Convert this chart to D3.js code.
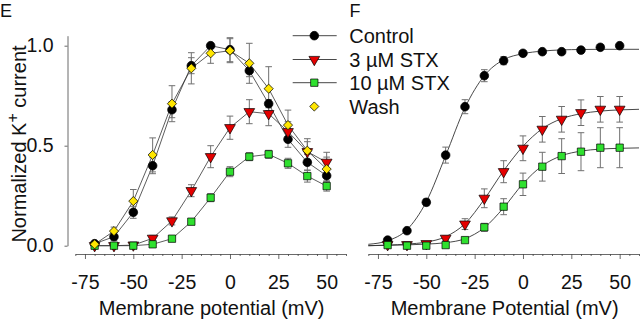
<!DOCTYPE html>
<html>
<head>
<meta charset="utf-8">
<script src="https://cdn.jsdelivr.net/npm/d3@7"></script>
<style>
html,body{margin:0;padding:0;background:#fff;}
svg{display:block;font-family:"Liberation Sans",Arial,sans-serif;}
</style>
</head>
<body>
<svg id="chart" width="640" height="319"></svg>
<script>
// ---------- DATA ----------
const voltages = [-70,-60,-50,-40,-30,-20,-10,0,10,20,30,40,50];
const seriesNames = ["Control","3 µM STX","10 µM STX","Wash"];

// Panel E (measured, connected by straight segments)
const eControl = [0.01,0.045,0.167,0.40,0.68,0.90,1.00,0.98,0.875,0.71,0.532,0.417,0.35];
const eControlErr = [0.005,0.02,0.03,0.04,0.04,0.04,0.01,0.06,0.03,0.02,0.04,0.04,0.03];
const eStx3 = [0.0,0.0,0.003,0.037,0.124,0.275,0.445,0.59,0.67,0.66,0.57,0.47,0.417];
const eStx3Err = [0.005,0.005,0.005,0.015,0.02,0.03,0.055,0.058,0.06,0.06,0.05,0.05,0.05];
const eStx10 = [0.0,0.0,0.0,0.007,0.035,0.12,0.24,0.37,0.445,0.457,0.412,0.348,0.298];
const eStx10Err = [0.005,0.005,0.005,0.005,0.01,0.015,0.02,0.025,0.02,0.02,0.025,0.03,0.025];
const eWash = [0.007,0.073,0.223,0.454,0.71,0.887,0.962,0.975,0.912,0.785,0.603,0.475,0.383];
const eWashErr = [0.01,0.02,0.058,0.085,0.09,0.078,0.05,0.06,0.1,0.11,0.075,0.06,0.06];

// Panel F (measured points)
const fControl = [0.028,0.075,0.217,0.453,0.695,0.85,0.925,0.962,0.97,0.97,0.978,0.992,1.0];
const fControlErr = [0.005,0.01,0.017,0.04,0.035,0.03,0.02,0.01,0.005,0.005,0.005,0.005,0.005];
const fStx3 = [0.005,0.005,0.01,0.037,0.108,0.237,0.37,0.487,0.582,0.632,0.665,0.682,0.682];
const fStx3Err = [0.005,0.005,0.005,0.012,0.027,0.047,0.055,0.062,0.064,0.064,0.064,0.064,0.064];
const fStx10 = [0.003,0.0,0.0,0.003,0.028,0.092,0.195,0.307,0.395,0.448,0.47,0.49,0.49];
const fStx10Err = [0.005,0.005,0.005,0.005,0.01,0.02,0.04,0.056,0.072,0.087,0.095,0.1,0.1];

// Panel F fitted curves
const fitVoltages = [-80,-70,-60,-50,-40,-30,-20,-10,0,10,20,30,40,50,60];
const fitControl = [0.007,0.025,0.08,0.22,0.45,0.69,0.85,0.93,0.96,0.973,0.979,0.981,0.982,0.982,0.982];
const fitStx3 = [0.0,0.003,0.008,0.018,0.045,0.11,0.232,0.375,0.497,0.585,0.635,0.66,0.673,0.679,0.682];
const fitStx10 = [0.0,0.002,0.004,0.008,0.015,0.035,0.09,0.19,0.31,0.4,0.45,0.473,0.483,0.487,0.489];

const xTicks = [-75,-50,-25,0,25,50];
const xTickLabels = ["-75","-50","-25","0","25","50"];
const yTicks = [0.0,0.5,1.0];
const yTickLabels = ["0.0","0.5","1.0"];

// ---------- STYLE ----------
const colors = {"Control":"#000000","3 µM STX":"#e40000","10 µM STX":"#2fe02f","Wash":"#ffe600"};
const svg = d3.select("#chart");
const FONT = 19.5;
const TITLE = 20;

const y = d3.scaleLinear().domain([0,1.05]).range([245.7,35.7]);
const xE = d3.scaleLinear().domain([-80,60]).range([75.3,346]);
const xF = d3.scaleLinear().domain([-80,60]).range([368.3,639]);
const AXIS_Y = 254;

function symbolFor(name){
  if(name==="Control") return {type:d3.symbolCircle,size:59,rot:0};
  if(name==="3 µM STX") return {type:d3.symbolTriangle,size:50,rot:180};
  if(name==="10 µM STX") return {type:d3.symbolSquare,size:54,rot:0};
  return {type:d3.symbolSquare,size:42,rot:45};
}
function drawMarker(g,name,cx,cy){
  const s = symbolFor(name);
  g.append("path")
    .attr("d",d3.symbol().type(s.type).size(s.size)())
    .attr("transform",`translate(${cx},${cy}) rotate(${s.rot})`)
    .attr("fill",colors[name]).attr("stroke","#000").attr("stroke-width",0.7);
}

function drawXAxis(x, title){
  const g = svg.append("g").attr("transform",`translate(0,${AXIS_Y})`);
  const minor = d3.range(-80,61,5).filter(v=>!xTicks.includes(v));
  g.append("g").call(d3.axisBottom(x).tickValues(minor).tickSize(2).tickSizeOuter(0).tickFormat(""))
    .call(a=>a.selectAll("line,path").attr("stroke","#444").attr("stroke-width",0.8));
  g.append("g").call(d3.axisBottom(x).tickValues(xTicks).tickSize(5).tickSizeOuter(0).tickPadding(16)
      .tickFormat((d,i)=>xTickLabels[i]))
    .call(a=>a.select(".domain").remove())
    .call(a=>a.selectAll("line").attr("stroke","#444").attr("stroke-width",0.8))
    .call(a=>a.selectAll("text").attr("font-size",FONT).attr("font-family","Liberation Sans, Arial, sans-serif").attr("fill","#111"));
  svg.append("text").attr("x",(x.range()[0]+x.range()[1])/2 + 1).attr("y",314.5)
    .attr("text-anchor","middle").attr("font-size",TITLE).attr("fill","#111").text(title);
}

// ---------- PANEL E ----------
const gE = svg.append("g");
drawXAxis(xE,"Membrane potential (mV)");
svg.append("g").attr("transform","translate(67.5,0)")
  .call(d3.axisLeft(y).tickValues(yTicks).tickSize(3).tickSizeOuter(0).tickPadding(11).tickFormat((d,i)=>yTickLabels[i]))
  .call(a=>a.selectAll("line,path").attr("stroke","#444").attr("stroke-width",0.8))
  .call(a=>a.selectAll("text").attr("font-size",FONT).attr("font-family","Liberation Sans, Arial, sans-serif").attr("fill","#111"));

const yl = svg.append("text").attr("transform","translate(25.5,144) rotate(-90)")
  .attr("text-anchor","middle").attr("font-size",TITLE).attr("fill","#111");
yl.append("tspan").text("Normalized K");
yl.append("tspan").attr("font-size",16).attr("dy",-8).text("+");
yl.append("tspan").attr("dy",8).text(" current");

svg.append("text").attr("x",0).attr("y",16.5).attr("font-size",18).attr("fill","#111").text("E");
svg.append("text").attr("x",349.5).attr("y",16.5).attr("font-size",18).attr("fill","#111").text("F");

const eSets = [
  ["Control",eControl,eControlErr],
  ["3 µM STX",eStx3,eStx3Err],
  ["10 µM STX",eStx10,eStx10Err],
  ["Wash",eWash,eWashErr]
];
const fSets = [
  ["Control",fControl,fControlErr,fitControl],
  ["3 µM STX",fStx3,fStx3Err,fitStx3],
  ["10 µM STX",fStx10,fStx10Err,fitStx10]
];

function errorBars(g,x,vals,errs){
  vals.forEach((v,i)=>{
    const e = errs[i], cx = x(voltages[i]);
    const y1 = y(v+e), y2 = y(v-e);
    g.append("line").attr("x1",cx).attr("x2",cx).attr("y1",y1).attr("y2",y2);
    g.append("line").attr("x1",cx-3.3).attr("x2",cx+3.3).attr("y1",y1).attr("y2",y1);
    g.append("line").attr("x1",cx-3.3).attr("x2",cx+3.3).attr("y1",y2).attr("y2",y2);
  });
}

// lines E
const lineE = d3.line().x((d,i)=>xE(voltages[i])).y(d=>y(d));
eSets.forEach(([name,vals])=>{
  gE.append("path").attr("d",lineE(vals)).attr("fill","none").attr("stroke","#333").attr("stroke-width",0.8);
});
const ebE = gE.append("g").attr("stroke","#707070").attr("stroke-width",1);
eSets.forEach(([name,vals,errs])=>errorBars(ebE,xE,vals,errs));
eSets.forEach(([name,vals])=>{
  vals.forEach((v,i)=>drawMarker(gE,name,xE(voltages[i]),y(v)));
});

// ---------- PANEL F ----------
const gF = svg.append("g");
drawXAxis(xF,"Membrane Potential (mV)");
const fitLine = d3.line().x((d,i)=>xF(fitVoltages[i])).y(d=>y(d)).curve(d3.curveMonotoneX);
fSets.forEach(([name,vals,errs,fit])=>{
  gF.append("path").attr("d",fitLine(fit)).attr("fill","none").attr("stroke","#333").attr("stroke-width",0.9);
});
const ebF = gF.append("g").attr("stroke","#707070").attr("stroke-width",1);
fSets.forEach(([name,vals,errs])=>errorBars(ebF,xF,vals,errs));
fSets.forEach(([name,vals])=>{
  vals.forEach((v,i)=>drawMarker(gF,name,xF(voltages[i]),y(v)));
});

// ---------- LEGEND ----------
const legY = [35.7,59.5,82.7,106.5];
const lg = svg.append("g");
seriesNames.forEach((name,i)=>{
  if(name!=="Wash"){
    lg.append("line").attr("x1",292.7).attr("x2",336.7).attr("y1",legY[i]).attr("y2",legY[i])
      .attr("stroke","#333").attr("stroke-width",0.9);
  }
  drawMarker(lg,name,314.3,legY[i]);
  lg.append("text").attr("x",349.3).attr("y",legY[i]).attr("dy","0.35em")
    .attr("font-size",TITLE).attr("fill","#111").text(name);
});
</script>
</body>
</html>
